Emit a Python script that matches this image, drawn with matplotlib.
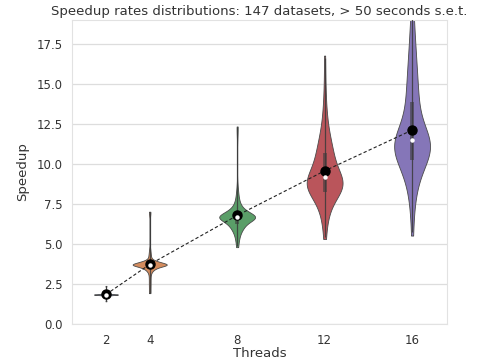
import numpy as np
import matplotlib
matplotlib.use("Agg")
import matplotlib.pyplot as plt

# Thread counts and per-dataset speedup samples
threads = [2, 4, 8, 12, 16]
speedup_2 = [1.42, 1.68, 1.74, 1.77, 1.79, 1.80, 1.81, 1.82, 1.82, 1.83, 1.83, 1.84,
             1.84, 1.85, 1.85, 1.86, 1.86, 1.87, 1.88, 1.89, 1.91, 1.94, 2.02, 2.38]
speedup_4 = [1.95, 2.50, 3.00, 3.30, 3.40, 3.48, 3.54, 3.58, 3.62, 3.65, 3.68, 3.70,
             3.72, 3.74, 3.77, 3.80, 3.84, 3.88, 3.90, 3.98, 4.15, 4.50, 7.00]
speedup_8 = [4.85, 5.30, 5.60, 5.80, 5.95, 6.05, 6.15, 6.25, 6.32, 6.40, 6.45, 6.50,
             6.55, 6.60, 6.64, 6.68, 6.72, 6.76, 6.80, 6.85, 6.90, 6.96, 7.02, 7.10,
             7.20, 7.32, 7.50, 7.80, 8.20, 12.30]
speedup_12 = [5.45, 6.40, 7.00, 7.35, 7.65, 7.90, 8.08, 8.22, 8.35, 8.48, 8.60, 8.72,
              8.85, 8.98, 9.10, 9.25, 9.40, 9.55, 9.75, 9.95, 10.20, 10.45, 10.75, 11.00,
              11.20, 11.60, 12.10, 12.70, 13.60, 16.60]
speedup_16 = [5.75, 7.50, 8.40, 8.95, 9.35, 9.70, 10.00, 10.20, 10.40, 10.60, 10.80, 11.00,
              11.15, 11.30, 11.45, 11.60, 11.80, 12.00, 12.30, 12.60, 13.00, 13.50, 14.00, 14.60,
              15.00, 15.60, 16.40, 17.20, 18.10, 19.40]
title = "Speedup rates distributions: 147 datasets, > 50 seconds s.e.t."

samples = [speedup_2, speedup_4, speedup_8, speedup_12, speedup_16]
colors = ["#4F6A98", "#D48C5E", "#5A9E68", "#BA555B", "#8576B8"]
half_widths = [0.55, 0.78, 0.82, 0.82, 0.82]


def adaptive_kde(s, adjust=1.0, tip=0.08, npts=400):
    """Adaptive-bandwidth Gaussian KDE: sparse tail points get wider kernels."""
    s = np.asarray(s, float)
    n = len(s)
    q1, q3 = np.percentile(s, [25, 75])
    spread = min(s.std(ddof=1), (q3 - q1) / 1.34)
    h = adjust * 0.9 * spread * n ** (-0.2)
    pilot = np.exp(-0.5 * ((s[:, None] - s[None, :]) / h) ** 2).sum(axis=1)
    lam = (pilot / np.exp(np.log(pilot).mean())) ** -0.5
    hi = h * lam
    grid = np.linspace(s.min() - tip * hi[s.argmin()], s.max() + tip * hi[s.argmax()], npts)
    dens = (np.exp(-0.5 * ((grid[:, None] - s[None, :]) / hi[None, :]) ** 2) / hi).sum(axis=1)
    return grid, dens / dens.max()


fig, ax = plt.subplots(figsize=(4.87, 3.59), dpi=100)
fig.subplots_adjust(left=0.148, right=0.918, bottom=0.0975, top=0.944)

for x, s, c, hw in zip(threads, samples, colors, half_widths):
    grid, dens = adaptive_kde(s)
    ax.fill_betweenx(grid, x - hw * dens, x + hw * dens, facecolor=c,
                     edgecolor="#4a4a4a", linewidth=0.6, zorder=2)
    s = np.asarray(s)
    q1, med, q3 = np.percentile(s, [25, 50, 75])
    ax.vlines(x, s.min(), s.max(), color="#3a3a3a", lw=0.9, alpha=0.85, zorder=3)
    ax.vlines(x, q1, q3, color="#3a3a3a", lw=2.8, alpha=0.6, zorder=3)

means = [np.mean(s) for s in samples]
medians = [np.median(s) for s in samples]
ax.plot(threads, means, color="#222222", lw=0.8, dashes=(3, 2), zorder=5)
ax.plot(threads, means, ls="none", marker="o", ms=6.5, color="black", zorder=6)
ax.plot(threads, medians, ls="none", marker="o", ms=2.2, color="white", zorder=7)

ax.set_xlim(0.45, 17.6)
ax.set_ylim(0, 19)
ax.set_xticks(threads)
yt = np.arange(0, 17.6, 2.5)
ax.set_yticks(yt)
ax.set_yticklabels([f"{v:.1f}" for v in yt])
ax.tick_params(labelsize=8.5, colors="#333333", length=0, pad=7)
ax.yaxis.grid(True, color="#dddddd", lw=0.9)
ax.set_axisbelow(True)
for sp in ax.spines.values():
    sp.set_color("#e2e2e2")
ax.set_xlabel("Threads", fontsize=9.5, color="#333333", labelpad=0)
ax.set_ylabel("Speedup", fontsize=9.5, color="#333333", labelpad=5)
ax.set_title(title, fontsize=9.5, color="#333333", pad=4)

fig.savefig("out.png", dpi=100)
